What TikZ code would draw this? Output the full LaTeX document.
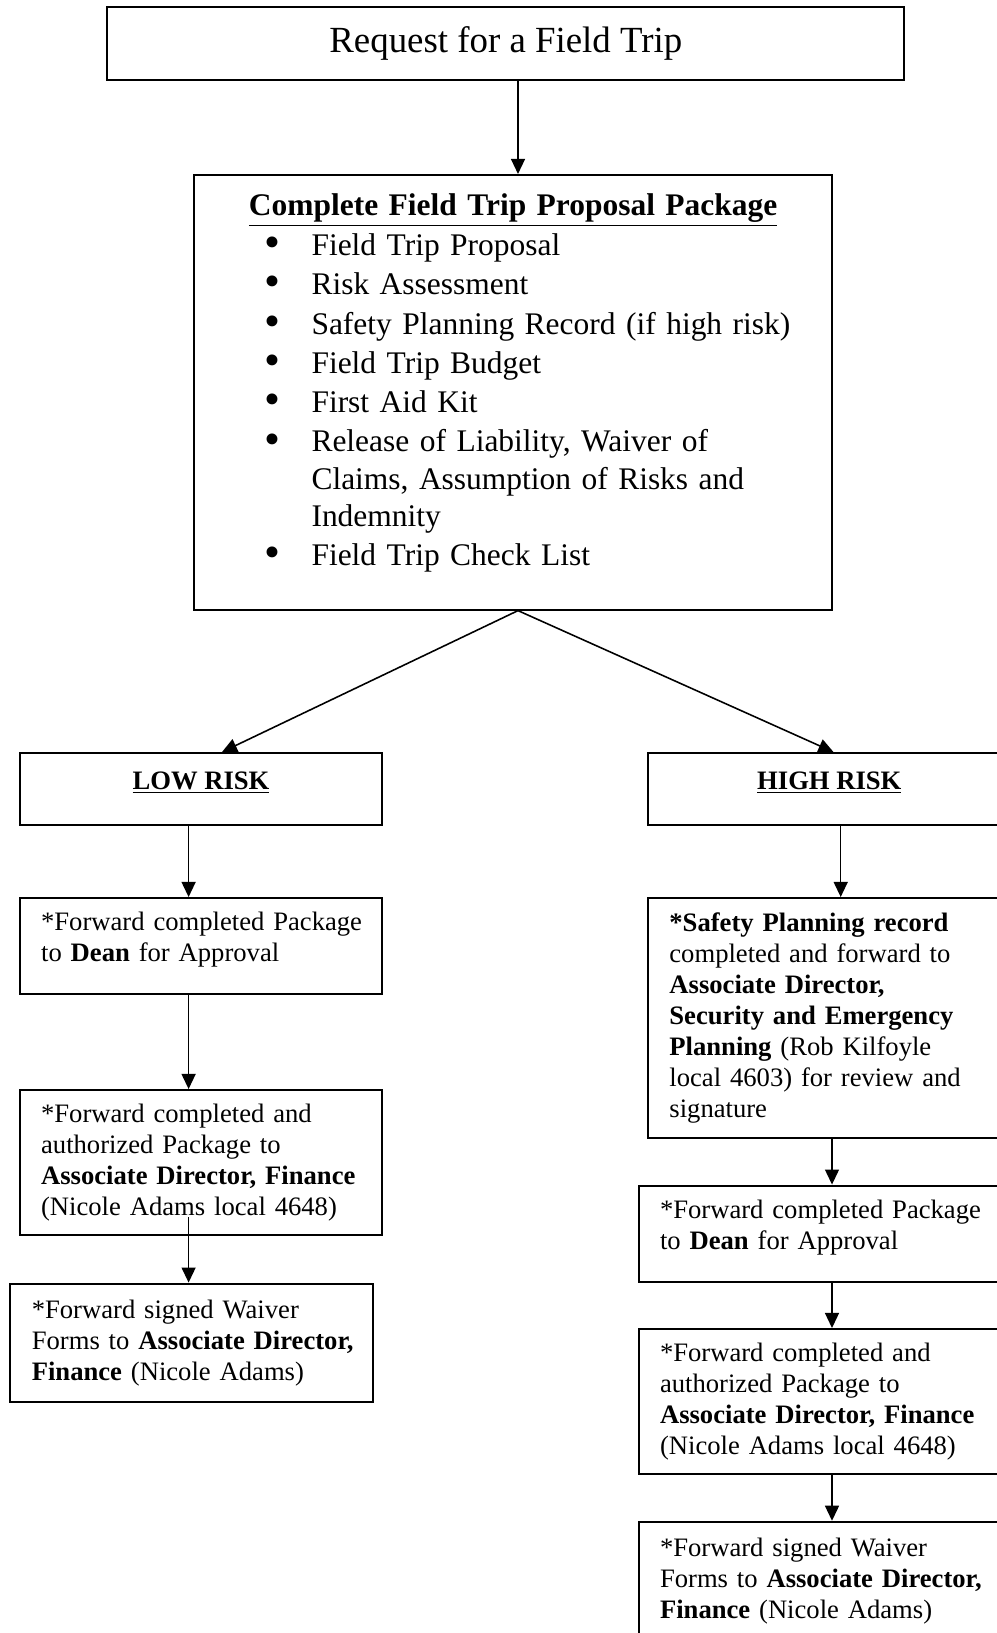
\documentclass[tikz,border=0pt]{standalone}
\usepackage{fontspec}
\setmainfont{Liberation Serif}
\usetikzlibrary{arrows.meta,calc}
% zero-width rule that deepens the last line of a box
\newcommand{\dropline}[1]{\rule[-#1]{0pt}{0pt}}
% one bullet line of the proposal package
\newcommand{\pkgitem}[1]{\hspace*{31.5pt}\makebox[20.9pt][l]{\raisebox{-0.9pt}{\scalebox{1.45}{\textbullet}}}#1}

\begin{document}
\begin{tikzpicture}[x=0.445pt, y=-0.445pt, >={Triangle[width=6.2pt,length=6.7pt]},
  font=\fontsize{11.85pt}{13.8pt}\selectfont,
  box/.style={draw, line width=0.9pt, inner xsep=9.5pt, inner ysep=0pt,
    text width=142.3pt, align=left,
    execute at begin node={\rightskip=0pt plus 1fil minus 20pt\relax}},
  riskbox/.style={draw, line width=0.9pt, minimum width=161.3pt,
    minimum height=32pt, inner sep=0pt, text height=8pt, text depth=8pt},
  arr/.style={->, line width=0.7pt}]
  \useasboundingbox (0,0) rectangle (997,1633);
  \clip (0,0) rectangle (997,1633);

  % columns the connectors run along
  \coordinate (mcol)  at (518,0);
  \coordinate (ldiag) at (222,0);
  \coordinate (rdiag) at (833.5,0);
  \coordinate (lcol)  at (188.6,0);
  \coordinate (rcolA) at (840.7,0);
  \coordinate (rcolB) at (832,0);

  % request and package
  \node[draw, line width=0.9pt, minimum width=354.7pt, minimum height=32.4pt,
    inner sep=0pt, font=\fontsize{16.4pt}{19pt}\selectfont]
    (request) at (505.8,43.7) {Request for a Field Trip};

  \node[draw, line width=0.9pt, inner sep=0pt, text width=284.2pt,
    minimum height=193.4pt, align=left, font=\fontsize{14pt}{16.5pt}\selectfont]
    (package) at (513.1,392.3)
    {\makebox[\hsize]{\textbf{\underline{Complete Field Trip Proposal Package}}}\\[1.3pt]
     \pkgitem{Field Trip Proposal}\\[1pt]
     \pkgitem{Risk Assessment}\\[1pt]
     \pkgitem{Safety Planning Record (if high risk)}\\[1pt]
     \pkgitem{Field Trip Budget}\\[1pt]
     \pkgitem{First Aid Kit}\\[1pt]
     \pkgitem{Release of Liability, Waiver of}\\
     \hspace*{52.4pt}Claims, Assumption of Risks and\\
     \hspace*{52.4pt}Indemnity\\[1pt]
     \pkgitem{Field Trip Check List}\dropline{11.4pt}};

  % low risk column
  \node[riskbox] (lowrisk) at (201,789) {\textbf{\underline{LOW RISK}}};
  \node[box, minimum height=42.7pt] (deanL) at (201,946)
    {*Forward completed Package\\ to \textbf{Dean} for Approval\dropline{8.5pt}};
  \node[box, minimum height=64.3pt] (financeL) at (201,1162.3)
    {*Forward completed and\\ authorized Package to\\
     \textbf{Associate Director, Finance}\\ (Nicole Adams local 4648)};
  \node[box, minimum height=52.7pt] (waiverL) at (191.7,1342.8)
    {*Forward signed Waiver\\ Forms to \textbf{Associate Director,}\\
     \textbf{Finance} (Nicole Adams)};

  % high risk column
  \node[riskbox] (highrisk) at (829.3,789) {\textbf{\underline{HIGH RISK}}};
  \node[box, minimum height=106.6pt] (safety) at (829.3,1017.8)
    {\textbf{*Safety Planning record}\\ completed and forward to\\
     \textbf{Associate Director,}\\ \textbf{Security and Emergency}\\
     \textbf{Planning} (Rob Kilfoyle\\ local 4603) for review and\\ signature};
  \node[box, minimum height=43.1pt] (deanR) at (819.9,1234)
    {*Forward completed Package\\ to \textbf{Dean} for Approval\dropline{8.5pt}};
  \node[box, minimum height=64.5pt] (financeR) at (819.9,1401.5)
    {*Forward completed and\\ authorized Package to\\
     \textbf{Associate Director, Finance}\\ (Nicole Adams local 4648)};
  \node[box, minimum height=52.7pt] (waiverR) at (819.9,1581)
    {*Forward signed Waiver\\ Forms to \textbf{Associate Director,}\\
     \textbf{Finance} (Nicole Adams)};

  % connectors
  \draw[arr] (request.south -| mcol) -- (package.north -| mcol);
  \draw[arr] (package.south -| mcol) -- (lowrisk.north -| ldiag);
  \draw[arr] (package.south -| mcol) -- (highrisk.north -| rdiag);
  \draw[arr] (lowrisk.south -| lcol) -- (deanL.north -| lcol);
  \draw[arr] (deanL.south -| lcol) -- (financeL.north -| lcol);
  \draw[arr] ($(financeL.south -| lcol)+(0,-18.5)$) -- (waiverL.north -| lcol);
  \draw[arr] (highrisk.south -| rcolA) -- (safety.north -| rcolA);
  \draw[arr] (safety.south -| rcolB) -- (deanR.north -| rcolB);
  \draw[arr] (deanR.south -| rcolB) -- (financeR.north -| rcolB);
  \draw[arr] (financeR.south -| rcolB) -- (waiverR.north -| rcolB);
\end{tikzpicture}
\end{document}
